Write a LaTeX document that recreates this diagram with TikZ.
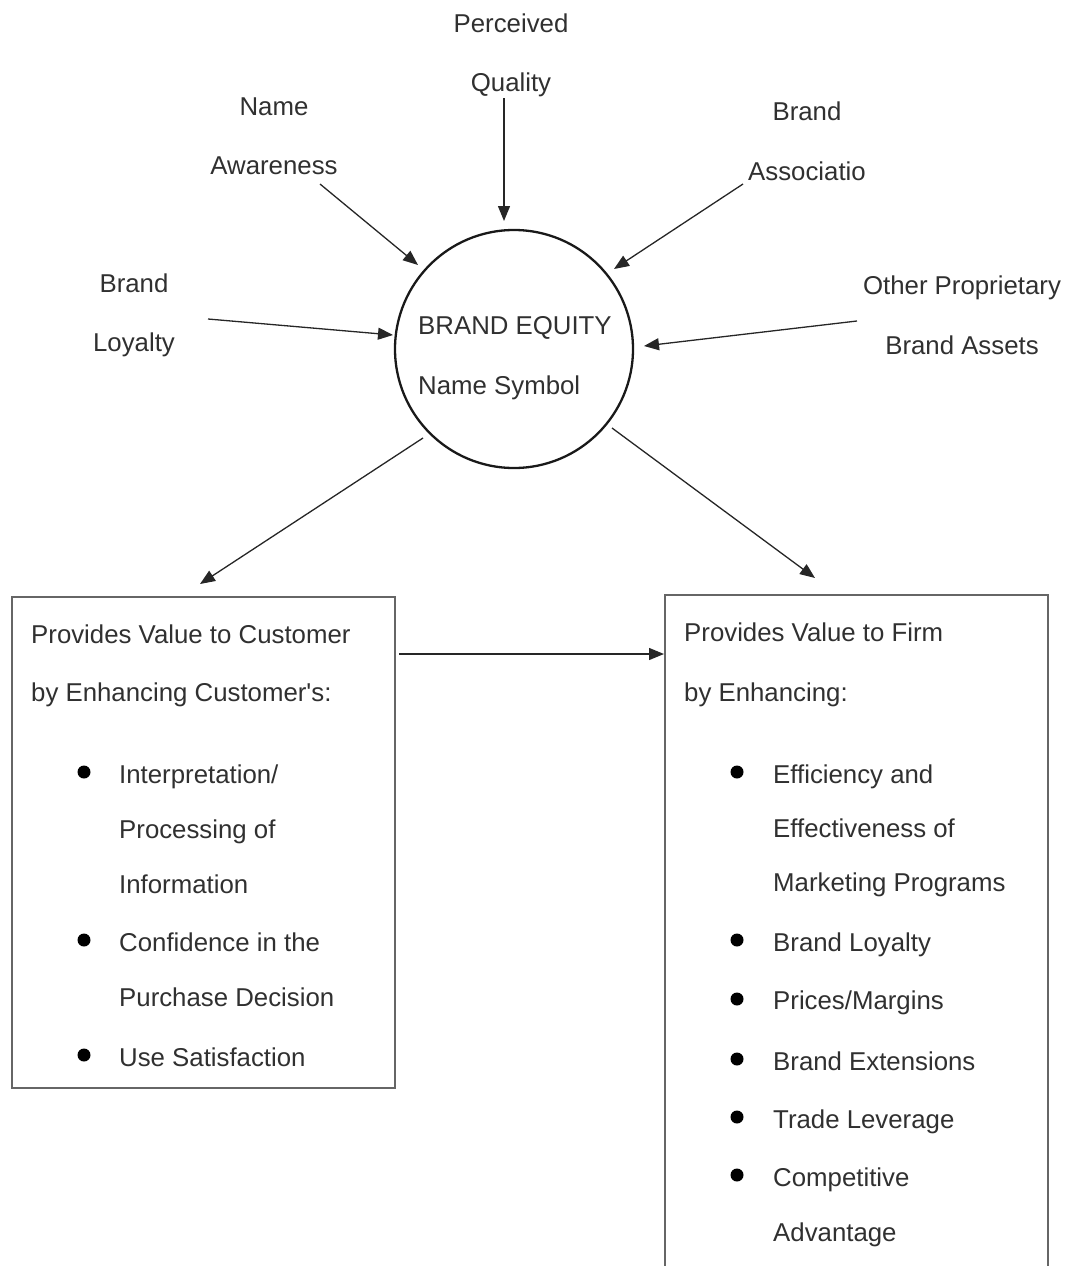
\documentclass[tikz,border=0pt]{standalone}
\usepackage{fontspec}
\setmainfont{Liberation Sans}
% same face without TeX quote ligatures, for a straight apostrophe
\newfontfamily\plainface{Liberation Sans}
\usetikzlibrary{arrows.meta}
\definecolor{ink}{HTML}{303030}
\begin{document}
\begin{tikzpicture}[x=1pt,y=-1pt,
  txt/.style={font=\fontsize{25.8}{30}\selectfont, text=ink, inner sep=0pt},
  lbl/.style={txt, anchor=base},
  item/.style={txt, anchor=base west},
  arr/.style={draw=black!85, line width=1.3pt, -{Triangle[length=15pt,width=12pt]}},
  panel/.style={draw=black!60, line width=2pt},
  dot/.style={circle, fill=black, draw=none, inner sep=0pt, minimum size=13pt}]
\useasboundingbox (0,0) rectangle (1068,1266);

% central circle
\node[draw=black!90, circle, line width=2.3pt, minimum size=238pt, inner sep=0pt] (eq) at (514,349) {};
\node[item] (eqA) at (418,334) {BRAND EQUITY};
\node[item] (eqB) at (418,394) {Name Symbol};

% contributing assets
\node[lbl] (pq1) at (511,32) {Perceived};
\node[lbl] (pq2) at (511,91) {Quality};
\node[lbl] (na1) at (274,115) {Name};
\node[lbl] (na2) at (274,174) {Awareness};
\node[lbl] (ba1) at (807,120) {Brand};
\node[lbl] (ba2) at (807,180) {Associatio};
\node[lbl] (bl1) at (134,292) {Brand};
\node[lbl] (bl2) at (134,351) {Loyalty};
\node[lbl] (op1) at (962,294) {Other Proprietary};
\node[lbl] (op2) at (962,354) {Brand Assets};

\coordinate (pqS) at (504,98);   \coordinate (pqT) at (504,221);
\coordinate (naS) at (320,184);  \coordinate (naT) at (418,265);
\coordinate (baS) at (743,184);  \coordinate (baT) at (614,269);
\coordinate (blS) at (208,319);  \coordinate (blT) at (393,335);
\coordinate (opS) at (857,321);  \coordinate (opT) at (644,346);
\draw[arr] (pqS) -- (pqT);
\draw[arr] (naS) -- (naT);
\draw[arr] (baS) -- (baT);
\draw[arr] (blS) -- (blT);
\draw[arr] (opS) -- (opT);

% value panels
\draw[panel] (12,597) rectangle (395,1088);
\coordinate (custBox) at (395,654);
\draw[panel] (665,1270) -- (665,595) -- (1048,595) -- (1048,1270);
\coordinate (firmBox) at (664,654);

\coordinate (outL) at (423,438);  \coordinate (outLT) at (200,584);
\coordinate (outR) at (612,428);  \coordinate (outRT) at (815,578);
\draw[arr] (outL) -- (outLT);
\draw[arr] (outR) -- (outRT);
\draw[arr] ([xshift=4pt]custBox) -- (firmBox);

% customer panel
\node[item] (c1) at (31,643) {Provides Value to Customer};
\node[item] (c2) at (31,701) {by Enhancing Customer{\plainface '}s:};
\node[dot] (cd1) at (84,772) {};
\node[dot] (cd2) at (84,940) {};
\node[dot] (cd3) at (84,1055) {};
\node[item] (ci1) at (119,783) {Interpretation/};
\node[item] (ci2) at (119,838) {Processing of};
\node[item] (ci3) at (119,893) {Information};
\node[item] (ci4) at (119,951) {Confidence in the};
\node[item] (ci5) at (119,1006) {Purchase Decision};
\node[item] (ci6) at (119,1066) {Use Satisfaction};

% firm panel
\node[item] (f1) at (684,641) {Provides Value to Firm};
\node[item] (f2) at (684,701) {by Enhancing:};
\node[dot] (fd1) at (737,772) {};
\node[dot] (fd2) at (737,940) {};
\node[dot] (fd3) at (737,999) {};
\node[dot] (fd4) at (737,1059) {};
\node[dot] (fd5) at (737,1117) {};
\node[dot] (fd6) at (737,1175) {};
\node[item] (fi1) at (773,783) {Efficiency and};
\node[item] (fi2) at (773,837) {Effectiveness of};
\node[item] (fi3) at (773,891) {Marketing Programs};
\node[item] (fi4) at (773,951) {Brand Loyalty};
\node[item] (fi5) at (773,1009) {Prices/Margins};
\node[item] (fi6) at (773,1070) {Brand Extensions};
\node[item] (fi7) at (773,1128) {Trade Leverage};
\node[item] (fi8) at (773,1186) {Competitive};
\node[item] (fi9) at (773,1241) {Advantage};
\end{tikzpicture}
\end{document}
